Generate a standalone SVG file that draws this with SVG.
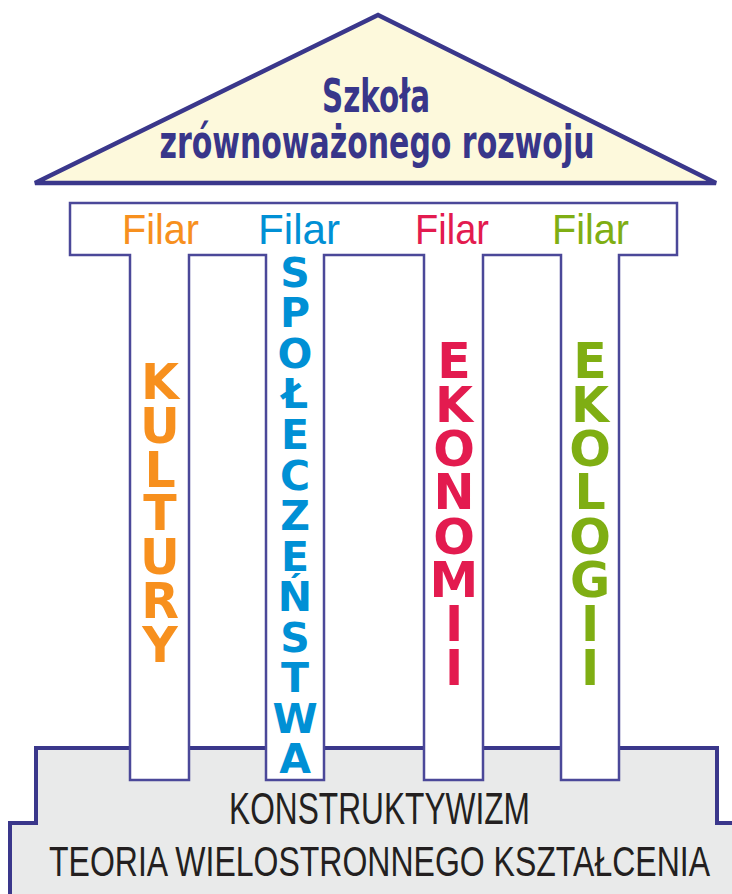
<svg xmlns="http://www.w3.org/2000/svg" width="732" height="894" viewBox="0 0 732 894">
<style>
.roof{fill:#fdf9dc;stroke:#3a378b;stroke-width:4.5;stroke-linejoin:miter}
.base{fill:#e9eaea;stroke:#3a378b;stroke-width:4}
.comb{fill:#ffffff;stroke:#4b4899;stroke-width:2.5}
.title{font-family:"DejaVu Sans","Liberation Sans",sans-serif;font-weight:bold;fill:#38368a;font-size:46px;text-anchor:middle}
.filar{font-family:"Liberation Sans","DejaVu Sans",sans-serif;font-size:43px;text-anchor:start}
.vert{font-family:"DejaVu Sans","Liberation Sans",sans-serif;font-weight:bold;text-anchor:middle}
.big{font-size:49px}
.small{font-size:41px}
.found{font-family:"Liberation Sans","DejaVu Sans",sans-serif;fill:#231f20;text-anchor:middle}
.orange{fill:#f7901e}.blue{fill:#0090d5}.red{fill:#e31b4f}.green{fill:#7fae13}
</style>
<g id="base">
<path class="base" d="M10,896 V823 H36 V748 H717 V823 H736 V896 Z"/>
<text class="found" x="379.5" y="824" font-size="44" textLength="301" lengthAdjust="spacingAndGlyphs">KONSTRUKTYWIZM</text>
<text class="found" x="379.5" y="876" font-size="42" textLength="661" lengthAdjust="spacingAndGlyphs">TEORIA WIELOSTRONNEGO KSZTAŁCENIA</text>
</g>
<g id="roof">
<polygon class="roof" points="378,15 35,183 716,183"/>
<text class="title" x="376" y="112" textLength="108" lengthAdjust="spacingAndGlyphs">Szkoła</text>
<text class="title" x="377" y="158" textLength="435" lengthAdjust="spacingAndGlyphs">zrównoważonego rozwoju</text>
</g>
<g id="pillars">
<path class="comb" d="M70,203 H677 V255 H619 V780 H561 V255 H483 V780 H424 V255 H324 V780 H266 V255 H189 V780 H130 V255 H70 Z"/>
</g>
<g id="filar-kultury">
<text class="filar orange" x="122" y="244" textLength="77" lengthAdjust="spacingAndGlyphs">Filar</text>
<text class="vert big orange">
<tspan x="160" y="399">K</tspan><tspan x="160" y="443">U</tspan><tspan x="160" y="487">L</tspan><tspan x="160" y="530">T</tspan><tspan x="160" y="574">U</tspan><tspan x="160" y="618">R</tspan><tspan x="160" y="662">Y</tspan>
</text>
</g>
<g id="filar-spoleczenstwa">
<text class="filar blue" x="258" y="244" textLength="82" lengthAdjust="spacingAndGlyphs">Filar</text>
<text class="vert small blue">
<tspan x="295" y="287">S</tspan><tspan x="295" y="327">P</tspan><tspan x="295" y="368">O</tspan><tspan x="295" y="408">Ł</tspan><tspan x="295" y="449">E</tspan><tspan x="295" y="490">C</tspan><tspan x="295" y="530">Z</tspan><tspan x="295" y="571">E</tspan><tspan x="295" y="611">Ń</tspan><tspan x="295" y="652">S</tspan><tspan x="295" y="692">T</tspan><tspan x="295" y="733">W</tspan><tspan x="295" y="773">A</tspan>
</text>
</g>
<g id="filar-ekonomii">
<text class="filar red" x="415" y="244" textLength="74" lengthAdjust="spacingAndGlyphs">Filar</text>
<text class="vert big red">
<tspan x="454" y="378">E</tspan><tspan x="454" y="422">K</tspan><tspan x="454" y="466">O</tspan><tspan x="454" y="509">N</tspan><tspan x="454" y="554">O</tspan><tspan x="454" y="597">M</tspan><tspan x="454" y="641">I</tspan><tspan x="454" y="685">I</tspan>
</text>
</g>
<g id="filar-ekologii">
<text class="filar green" x="552" y="244" textLength="77" lengthAdjust="spacingAndGlyphs">Filar</text>
<text class="vert big green">
<tspan x="590" y="378">E</tspan><tspan x="590" y="422">K</tspan><tspan x="590" y="466">O</tspan><tspan x="590" y="509">L</tspan><tspan x="590" y="554">O</tspan><tspan x="590" y="597">G</tspan><tspan x="590" y="641">I</tspan><tspan x="590" y="685">I</tspan>
</text>
</g>
</svg>
